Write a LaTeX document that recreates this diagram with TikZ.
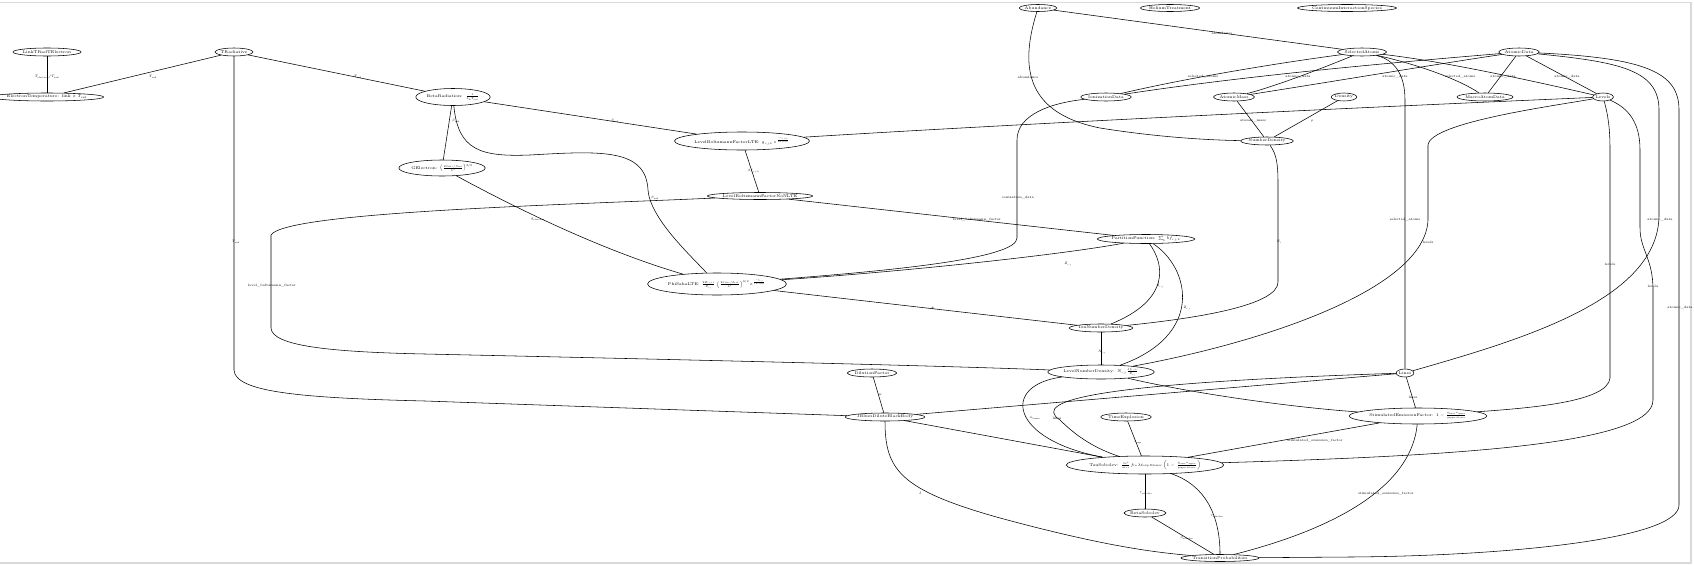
\RequirePackage{fix-cm}
\documentclass[tikz,border=0pt]{standalone}
\usepackage{amsmath}
\usetikzlibrary{shapes.geometric}
\begin{document}
\begin{tikzpicture}[x=1pt,y=-1pt,
 nd/.style={draw, ellipse, line width=0.55pt, inner sep=0pt, minimum height=8pt, font=\fontsize{4}{4.5}\selectfont},
 lbl/.style={inner sep=0pt, font=\fontsize{3.3}{4}\selectfont},
 ed/.style={line width=0.55pt}]
\useasboundingbox (0,0) rectangle (1694,565);
\fill[white] (0,0) rectangle (1694,565);
\draw[gray!30, line width=1.5pt] (0,2.5) -- (1691,2.5) -- (1691,563) -- (0,563);
% nodes
\node[nd, minimum width=55pt] (linkt) at (47,52) {LinkTRadTElectron};
\node[nd, minimum width=93pt] (etemp) at (47,97) {ElectronTemperature: $\mathrm{link}\times T_{\mathrm{rad}}$};
\node[nd, minimum width=32pt] (trad) at (234,52) {TRadiative};
\node[nd, minimum width=63pt, minimum height=17pt] (betarad) at (453,97) {BetaRadiation: $\frac{1}{k_B T_{\mathrm{rad}}}$};
\node[nd, minimum width=75pt, minimum height=16pt] (gelec) at (442,168) {GElectron: $\left(\frac{2\pi m_e/\beta_{\mathrm{rad}}}{h^2}\right)^{3/2}$};
\node[nd, minimum width=108pt, minimum height=18pt] (lbflte) at (742,141) {LevelBoltzmannFactorLTE: $g_{i,j,k}\,e^{\frac{-\epsilon_{i,j,k}}{k_B T_{\mathrm{rad}}}}$};
\node[nd, minimum width=84pt, minimum height=7pt] (lbfno) at (760,196) {LevelBoltzmannFactorNoNLTE};
\node[nd, minimum width=118pt, minimum height=22pt] (phisaha) at (717,284) {PhiSahaLTE: $\frac{2Z_{i,j+1}}{Z_{i,j}}\left(\frac{2\pi m_e/\beta_{\mathrm{rad}}}{h^2}\right)^{3/2} e^{\frac{-\chi_{i,j}}{k_B T_{\mathrm{rad}}}}$};
\node[nd, minimum width=77pt, minimum height=9pt] (pf) at (1146,239) {PartitionFunction: $\sum_k bf_{i,j,k}$};
\node[nd, minimum width=51pt] (ion) at (1101,328) {IonNumberDensity};
\node[nd, minimum width=86pt, minimum height=14pt] (lnd) at (1101,372) {LevelNumberDensity: $N_{i,j}\frac{bf_{i,j,k}}{Z_{i,j}}$};
\node[nd, minimum width=38pt] (dil) at (872,373) {DilutionFactor};
\node[nd, minimum width=31pt, minimum height=7pt] (abund) at (1038,8) {Abundance};
\node[nd, minimum width=47pt, minimum height=7pt] (helium) at (1170,8) {HeliumTreatment};
\node[nd, minimum width=78pt, minimum height=7pt] (cont) at (1347,8) {ContinuumInteractionSpecies};
\node[nd, minimum width=40pt] (sel) at (1362,52) {SelectedAtoms};
\node[nd, minimum width=35pt] (atomic) at (1519,52) {AtomicData};
\node[nd, minimum width=41pt] (iondata) at (1106,97) {IonizationData};
\node[nd, minimum width=35pt] (amass) at (1234,97) {AtomicMass};
\node[nd, minimum width=23pt] (density) at (1344,97) {Density};
\node[nd, minimum width=42pt] (numden) at (1267,141) {NumberDensity};
\node[nd, minimum width=46pt] (macro) at (1485,97) {MacroAtomData};
\node[nd, minimum width=18pt] (levels) at (1603,97) {Levels};
\node[nd, minimum width=16pt] (lines) at (1405,373) {Lines};
\node[nd, minimum width=114pt, minimum height=16pt] (sef) at (1418,416) {StimulatedEmissionFactor: $1-\frac{g_{\mathrm{lower}}n_{\mathrm{upper}}}{g_{\mathrm{upper}}n_{\mathrm{lower}}}$};
\node[nd, minimum width=62pt] (jblues) at (885,417) {JBluesDiluteBlackBody};
\node[nd, minimum width=42pt] (texp) at (1126,417) {TimeExplosion};
\node[nd, minimum width=133pt, minimum height=18pt] (tau) at (1145,465) {TauSobolev: $\frac{\pi e^2}{m_e c} f_{lu}\lambda t_{\mathrm{exp}} n_{\mathrm{lower}}\left(1-\frac{g_{\mathrm{lower}}n_{\mathrm{upper}}}{g_{\mathrm{upper}}n_{\mathrm{lower}}}\right)$};
\node[nd, minimum width=35pt] (betasob) at (1145,513) {BetaSobolev};
\node[nd, minimum width=61pt, minimum height=7pt] (trans) at (1220,558) {TransitionProbabilities};
% edges
\draw[ed] (linkt) -- (etemp);
\draw[ed] (trad) -- (etemp);
\draw[ed] (trad) -- (betarad);
\draw[ed] (trad) -- (234,370) .. controls (235,392) and (300,398) .. (425,401) -- (jblues);
\draw[ed] (betarad) -- (gelec);
\draw[ed] (betarad) -- (lbflte);
\draw[ed] (betarad) .. controls (458,150) and (480,157) .. (530,155) .. controls (600,151) and (646,148) .. (648,190) .. controls (650,218) and (690,255) .. (phisaha);
\draw[ed] (gelec) .. controls (510,205) and (600,250) .. (phisaha);
\draw[ed] (lbflte) -- (lbfno);
\draw[ed] (lbfno) -- (pf);
\draw[ed] (lbfno) .. controls (560,205) and (285,212) .. (271,235) -- (271,328) .. controls (272,346) and (330,352) .. (425,354) .. controls (700,360) and (950,366) .. (lnd);
\draw[ed] (levels) .. controls (1300,110) and (1000,125) .. (lbflte);
\draw[ed] (iondata) .. controls (1050,103) and (1017,115) .. (1017,140) -- (1017,238) .. controls (1017,258) and (900,270) .. (phisaha);
\draw[ed] (pf) .. controls (1060,255) and (900,272) .. (phisaha);
\draw[ed] (phisaha) -- (ion);
\draw[ed] (pf) .. controls (1165,265) and (1170,300) .. (ion);
\draw[ed] (pf) .. controls (1190,268) and (1205,335) .. (lnd);
\draw[ed] (ion) -- (lnd);
\draw[ed] (numden) .. controls (1277,155) and (1278,165) .. (1278,185) -- (1278,282) .. controls (1278,305) and (1200,318) .. (ion);
\draw[ed] (abund) .. controls (1022,60) and (1020,112) .. (1100,128) .. controls (1150,136) and (1200,140) .. (numden);
\draw[ed] (abund) -- (sel);
\draw[ed] (amass) -- (numden);
\draw[ed] (density) -- (numden);
\draw[ed] (iondata) .. controls (1200,75) and (1300,60) .. (sel);
\draw[ed] (iondata) .. controls (1250,75) and (1400,62) .. (atomic);
\draw[ed] (amass) .. controls (1280,85) and (1330,65) .. (sel);
\draw[ed] (amass) .. controls (1330,82) and (1450,62) .. (atomic);
\draw[ed] (sel) .. controls (1420,65) and (1460,80) .. (macro);
\draw[ed] (atomic) -- (macro);
\draw[ed] (sel) .. controls (1450,62) and (1550,85) .. (levels);
\draw[ed] (atomic) -- (levels);
\draw[ed] (sel) .. controls (1395,60) and (1405,75) .. (1405,100) -- (lines);
\draw[ed] (atomic) .. controls (1620,62) and (1659,70) .. (1659,110) -- (1659,215) .. controls (1659,300) and (1520,340) .. (lines);
\draw[ed] (atomic) .. controls (1645,58) and (1679,72) .. (1679,110) -- (1679,505) .. controls (1679,540) and (1500,556) .. (1350,557) -- (trans);
\draw[ed] (levels) .. controls (1560,105) and (1430,122) .. (1428,145) -- (1428,220) .. controls (1425,290) and (1260,343) .. (lnd);
\draw[ed] (levels) .. controls (1608,115) and (1610,128) .. (1610,150) -- (1610,378) .. controls (1608,402) and (1530,408) .. (sef);
\draw[ed] (levels) .. controls (1628,108) and (1640,122) .. (1640,150) -- (1640,228) .. controls (1640,250) and (1653,258) .. (1653,290) -- (1653,400) .. controls (1653,445) and (1450,456) .. (tau);
\draw[ed] (lines) -- (sef);
\draw[ed] (lines) -- (jblues);
\draw[ed] (dil) -- (jblues);
\draw[ed] (jblues) -- (tau);
\draw[ed] (jblues) .. controls (885,470) and (900,490) .. (1000,518) .. controls (1100,545) and (1150,552) .. (trans);
\draw[ed] (lnd) .. controls (1000,385) and (1010,440) .. (tau);
\draw[ed] (lines) .. controls (1100,383) and (1030,400) .. (1060,420) .. controls (1080,440) and (1100,450) .. (tau);
\draw[ed] (lnd) .. controls (1200,395) and (1300,408) .. (sef);
\draw[ed] (texp) -- (tau);
\draw[ed] (sef) -- (tau);
\draw[ed] (sef) .. controls (1412,480) and (1350,525) .. (trans);
\draw[ed] (tau) -- (betasob);
\draw[ed] (tau) .. controls (1205,485) and (1220,515) .. (trans);
\draw[ed] (betasob) -- (trans);
% labels
\node[lbl] (l1) at (47,77) {$T_{\mathrm{electron}}/T_{\mathrm{rad}}$};
\node[lbl] (l2) at (153,77) {$T_{\mathrm{rad}}$};
\node[lbl] (l3) at (358,77) {$T_{\mathrm{rad}}$};
\node[lbl] (l4) at (236,242) {$T_{\mathrm{rad}}$};
\node[lbl] (l5) at (456,121) {$\beta_{\mathrm{rad}}$};
\node[lbl] (l6) at (615,121) {$\beta_{\mathrm{rad}}$};
\node[lbl] (l7) at (655,198) {$\beta_{\mathrm{rad}}$};
\node[lbl] (l8) at (538,219) {$g_{\mathrm{electron}}$};
\node[lbl] (l9) at (754,171) {$bf_{i,j,k}$};
\node[lbl] (l10) at (977,220) {level\_boltzmann\_factor};
\node[lbl] (l11) at (272,286) {level\_boltzmann\_factor};
\node[lbl] (l13) at (1018,198) {ionization\_data};
\node[lbl] (l14) at (1068,264) {$Z_{i,j}$};
\node[lbl] (l15) at (933,308) {$\Phi$};
\node[lbl] (l16) at (1160,286) {$Z_{i,j}$};
\node[lbl] (l17) at (1187,308) {$Z_{i,j}$};
\node[lbl] (l18) at (1102,352) {$N_{i,j}$};
\node[lbl] (l19) at (1279,242) {$N_i$};
\node[lbl] (l20) at (1028,77) {abundance};
\node[lbl] (l21) at (1222,33) {abundance};
\node[lbl] (l22) at (1253,121) {atomic\_mass};
\node[lbl] (l23) at (1312,121) {$\rho$};
\node[lbl] (l24) at (1203,77) {selected\_atoms};
\node[lbl] (l25) at (1298,77) {atomic\_data};
\node[lbl] (l26) at (1395,77) {atomic\_data};
\node[lbl] (l27) at (1460,77) {selected\_atoms};
\node[lbl] (l28) at (1503,77) {atomic\_data};
\node[lbl] (l29) at (1567,77) {atomic\_data};
\node[lbl] (l30) at (1405,220) {selected\_atoms};
\node[lbl] (l31) at (1660,220) {atomic\_data};
\node[lbl] (l32) at (1680,308) {atomic\_data};
\node[lbl] (l33) at (1428,242) {levels};
\node[lbl] (l34) at (1610,264) {levels};
\node[lbl] (l35) at (1653,286) {levels};
\node[lbl] (l36) at (1413,397) {lines};
\node[lbl] (l37) at (880,395) {$w$};
\node[lbl] (l38) at (920,493) {$J$};
\node[lbl] (l40) at (1138,442) {$t_{\mathrm{exp}}$};
\node[lbl] (l41) at (1146,493) {$\tau_{\mathrm{sobolev}}$};
\node[lbl] (l42) at (1217,516) {$\tau_{\mathrm{sobolev}}$};
\node[lbl] (l43) at (1187,538) {$\beta_{\mathrm{sobolev}}$};
\node[lbl] (l44) at (1315,441) {stimulated\_emission\_factor};
\node[lbl] (l45) at (1386,494) {stimulated\_emission\_factor};
\node[lbl] (l46) at (1035,418) {$n_{\mathrm{lower}}$};
\node[lbl] (l47) at (1057,418) {lines};
\end{tikzpicture}
\end{document}
